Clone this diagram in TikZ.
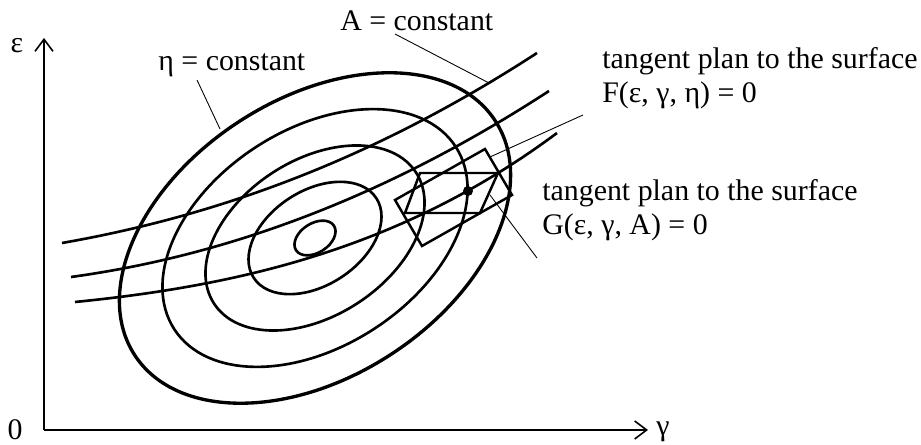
\documentclass[tikz,border=0pt]{standalone}
\usepackage{fontspec}
\setmainfont{Liberation Serif}
\usepackage{tikz}
\usetikzlibrary{arrows.meta,positioning,calc}

\tikzset{
  level/.style={line width=1.5pt},
  outerlevel/.style={line width=1.9pt},
  plane/.style={line width=1.4pt, line join=miter},
  leader/.style={line width=0.5pt},
  axis/.style={line width=0.9pt, -{Straight Barb[length=2.4mm,width=3.6mm]}},
  lbl/.style={font=\fontsize{17}{19.8}\selectfont, inner sep=0pt, align=left},
}

\begin{document}
\begin{tikzpicture}[x=0.02cm, y=-0.02cm]
  \useasboundingbox (0,0) rectangle (921,445);
  % axes
  \coordinate (o) at (44,430);
  \coordinate (ytip) at (44,38);
  \coordinate (xtip) at (648,430);
  \draw[axis] (o) -- (ytip);
  \draw[axis] (o) -- (xtip);
  \node[lbl] (zero) at (15,430) {0};
  \node[lbl] (eps) at (17,46) {ε};
  \node[lbl, anchor=west] (gam) at (656,432) {γ};

  % eta = constant
  \coordinate (c) at (315,238);
  \foreach \s/\w in {0.105/level, 0.34/level, 0.56/level, 0.78/level, 1/outerlevel}
    \draw[\w, rotate around={33:(c)}] (c) ellipse [x radius=215*\s, y radius=139*\s];

  % A = constant
  \draw[level] (62,243) .. controls (222,215) and (377,157) .. (537,53);
  \draw[level] (71,277) .. controls (231,255) and (389,195) .. (549,91);
  \draw[level] (75,302) .. controls (235,286) and (400,250) .. (557,133);

  % tangent planes
  \draw[plane] (420,173) -- (498,173) -- (480,213) -- (405,213) -- cycle;
  \draw[plane] (395,200) -- (485,149) -- (512,195) -- (422,246) -- cycle;
  \fill (468,191) circle [radius=5];

  % labels
  \node[lbl, anchor=base west] (aconst) at (340,31) {A = constant};
  \node[lbl, anchor=base west] (etaconst) at (158,71) {η = constant};
  \node[lbl, anchor=base west] (fplane) at (602,103) {tangent plan to the surface\\F(ε, γ, η) = 0};
  \node[lbl, anchor=base west] (gplane) at (542,235) {tangent plan to the surface\\G(ε, γ, A) = 0};

  \coordinate (aend) at (489,83);
  \coordinate (etaend) at (220,129);
  \coordinate (fend) at (490,157);
  \coordinate (gend) at (490,195);
  \draw[leader] (395,34) -- (aend);
  \draw[leader] (197,80) -- (etaend);
  \draw[leader] (583,115) -- (fend);
  \draw[leader] (537,258) -- (gend);
\end{tikzpicture}
\end{document}
